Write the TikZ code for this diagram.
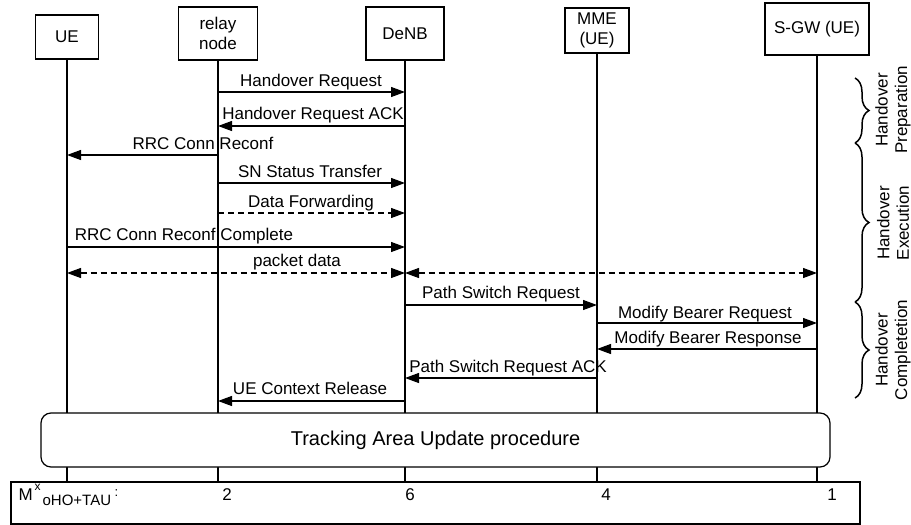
\documentclass[tikz,border=0pt]{standalone}
\usepackage{fontspec}
\setmainfont{Liberation Sans}
\usetikzlibrary{arrows.meta,decorations.pathreplacing,calc}
\begin{document}
\begin{tikzpicture}[x=1pt,y=-1pt,line width=1.2pt,
  every node/.style={font=\fontsize{17}{19.5}\selectfont},
  head/.style={draw,align=center,inner sep=0pt},
  msg/.style={-{Triangle[length=14pt,width=10pt]}},
  dmsg/.style={{Triangle[length=14pt,width=10pt]}-{Triangle[length=14pt,width=10pt]},dash pattern=on 6pt off 4pt},
  lbl/.style={anchor=base,inner sep=0pt},
  phase/.style={rotate=90,align=center,inner sep=0pt},
  br/.style={decorate,decoration={brace,amplitude=14pt},line width=1.5pt},
  val/.style={anchor=base,inner sep=0pt}]
\useasboundingbox (0,0) rectangle (911,525);

% headers
\node[head,minimum width=63pt,minimum height=44pt] (ue) at (67,37) {UE};
\node[head,minimum width=79pt,minimum height=53pt] (rn) at (218,33.5) {relay\\node};
\node[head,minimum width=78pt,minimum height=53pt] (denb) at (405,33.5) {DeNB};
\node[head,minimum width=64pt,minimum height=45pt] (mme) at (597,30.5) {MME\\(UE)};
\node[head,minimum width=104pt,minimum height=52pt] (sgw) at (817,29) {S-GW (UE)};

% table
\node[draw,minimum width=849pt,minimum height=42pt,inner sep=0pt] (tab) at (435.5,503) {};

% lifelines
\foreach \n in {ue,rn,denb,mme,sgw}{
  \draw (\n.south) -- (\n.south |- tab.north);
}

% TAU box
\node[draw,fill=white,rounded corners=10pt,minimum width=789pt,minimum height=54pt,inner sep=0pt,
      font=\fontsize{20}{24}\selectfont] (tau) at (435.5,440) {Tracking Area Update procedure};

% messages
\draw[msg] (rn |- 0,92) -- (denb |- 0,92);
\node[lbl] (l1) at (311,86) {Handover Request};
\draw[msg] (denb |- 0,126) -- (rn |- 0,126);
\node[lbl] (l2) at (313,119) {Handover Request ACK};
\draw[msg] (rn |- 0,155) -- (ue |- 0,155);
\node[lbl] (l3) at (203,149) {RRC Conn Reconf};
\draw[msg] (rn |- 0,183) -- (denb |- 0,183);
\node[lbl] (l4) at (310,177) {SN Status Transfer};
\draw[msg,dash pattern=on 6pt off 4pt] (rn |- 0,213) -- (denb |- 0,213);
\node[lbl] (l5) at (311,207) {Data Forwarding};
\draw[msg] (ue |- 0,247) -- (denb |- 0,247);
\node[lbl] (l6) at (184,240) {RRC Conn Reconf Complete};
\draw[dmsg] (ue |- 0,273) -- (denb |- 0,273);
\draw[dmsg] (denb |- 0,273) -- (sgw |- 0,273);
\node[lbl] (l7) at (297,266) {packet data};
\draw[msg] (denb |- 0,305) -- (mme |- 0,305);
\node[lbl] (l8) at (501,298) {Path Switch Request};
\draw[msg] (mme |- 0,323) -- (sgw |- 0,323);
\node[lbl] (l9) at (705,318) {Modify Bearer Request};
\draw[msg] (sgw |- 0,349) -- (mme |- 0,349);
\node[lbl] (l10) at (708,343) {Modify Bearer Response};
\draw[msg] (mme |- 0,378) -- (denb |- 0,378);
\node[lbl] (l11) at (508,372) {Path Switch Request ACK};
\draw[msg] (denb |- 0,401) -- (rn |- 0,401);
\node[lbl] (l12) at (310,394) {UE Context Release};

% braces
\coordinate (b0) at (855,78);
\coordinate (b1) at (855,143);
\coordinate (b2) at (855,302);
\coordinate (b3) at (855,398);
\draw[br] (b0) -- (b1);
\draw[br] (b1) -- (b2);
\draw[br] (b2) -- (b3);
\node[phase] (p1) at (893,110) {Handover\\Preparation};
\node[phase] (p2) at (893,223) {Handover\\Execution};
\node[phase] (p3) at (893,350) {Handover\\Completetion};

% table content
\node[anchor=base west,inner sep=0pt] (mlab) at (18,500) {M};
\node[anchor=base west,inner sep=0pt,font=\fontsize{12}{14}\selectfont] (msup) at (34,490) {x};
\node[anchor=base west,inner sep=0pt,font=\fontsize{15}{17}\selectfont] (msub) at (42,505) {oHO+TAU};
\node[anchor=base west,inner sep=0pt,font=\fontsize{13}{15}\selectfont] (mcol) at (114,496) {:};
\node[val] (v1) at (227,500) {2};
\node[val] (v2) at (410,500) {6};
\node[val] (v3) at (606,500) {4};
\node[val] (v4) at (832,500) {1};
\end{tikzpicture}
\end{document}
